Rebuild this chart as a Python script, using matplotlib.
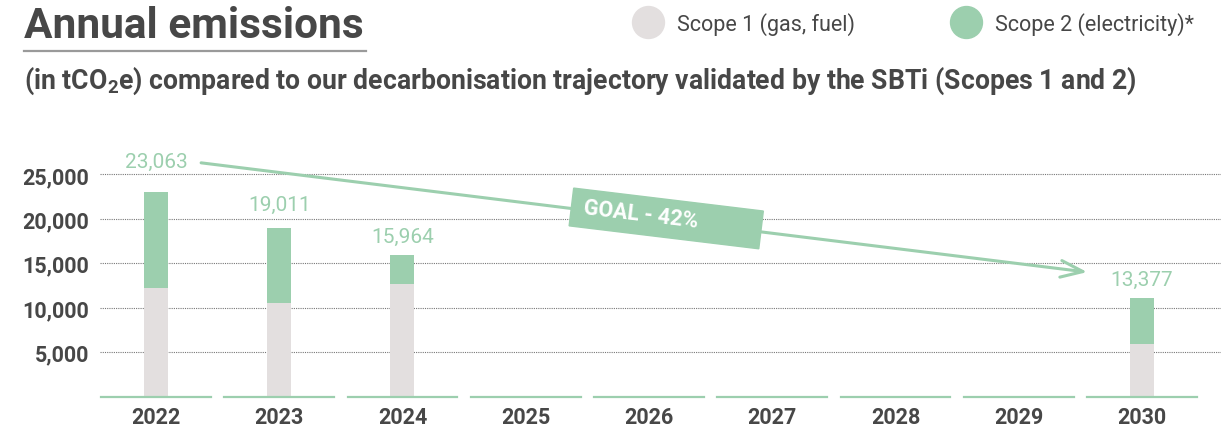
import matplotlib
matplotlib.use("Agg")
import matplotlib.pyplot as plt
import numpy as np
from matplotlib.lines import Line2D
from matplotlib.patches import Rectangle
from matplotlib.transforms import ScaledTranslation

plt.rcParams['font.family'] = ['Roboto', 'DejaVu Sans']
plt.rcParams['mathtext.fontset'] = 'custom'
plt.rcParams['mathtext.rm'] = 'Roboto'
plt.rcParams['mathtext.bf'] = 'Roboto:bold'

# data
years = ["2022", "2023", "2024", "2025", "2026", "2027", "2028", "2029", "2030"]
scope1 = [12250, 10560, 12670, 0, 0, 0, 0, 0, 5900]
scope2 = [10813, 8451, 3294, 0, 0, 0, 0, 0, 5200]
total_labels = {"2022": 23063, "2023": 19011, "2024": 15964, "2030": 13377}
goal_text = "GOAL - 42%"
yticks = [5000, 10000, 15000, 20000, 25000]

# colours
green = "#9ccfae"
grey = "#e3dfdf"
dark = "#474747"

fig = plt.figure(figsize=(12.21, 4.35), dpi=100)
ax = fig.add_axes([100 / 1221, 37.5 / 435, 1121 / 1221, 247.5 / 435])

x = np.arange(len(years))
barwidth = 0.195
ax.bar(x, scope1, barwidth, color=grey, zorder=2)
ax.bar(x, scope2, barwidth, bottom=scope1, color=green, zorder=2)

# green baseline segment under every year
for xi in x:
    ax.plot([xi - 0.445, xi + 0.445], [0, 0], color=green, lw=1.6, clip_on=False, zorder=3)

ax.set_xlim(-0.454, 8.641)
ax.set_ylim(0, 27870)
ax.set_xticks(x)
ax.set_xticklabels(years)
ax.set_yticks(yticks)
ax.set_yticklabels([f"{v:,}" for v in yticks])
ax.tick_params(axis="both", length=0, labelsize=15.5, labelcolor=dark)
ax.tick_params(axis="y", pad=8)
ax.tick_params(axis="x", pad=7)
for lab in ax.get_xticklabels() + ax.get_yticklabels():
    lab.set_fontweight("bold")
for s in ax.spines.values():
    s.set_visible(False)
ax.yaxis.grid(True, color="#777777", lw=0.8, linestyle=(0, (1, 1)))
ax.set_axisbelow(True)

# total labels above the bars (offset in points)
label_offsets = {"2022": 22, "2023": 16.5, "2024": 13, "2030": 13.5}
label_artists = {}
for year, value in total_labels.items():
    i = years.index(year)
    top = scope1[i] + scope2[i]
    label_artists[year] = ax.annotate(f"{value:,}", (x[i], top), xytext=(0, label_offsets[year]),
                                      textcoords="offset points", ha="center", va="center",
                                      color=green, fontsize=15, annotation_clip=False)

# trajectory arrow from the 2022 label to the 2030 label
ax.annotate("", xy=(0, 0.72), xycoords=label_artists["2030"], xytext=(1, 0.5),
            textcoords=label_artists["2022"],
            arrowprops=dict(arrowstyle="->,head_length=1.6,head_width=0.6", color=green,
                            lw=2.2, shrinkA=10, shrinkB=17, mutation_scale=10))

# rotated goal box on the arrow
box_trans = fig.dpi_scale_trans + ScaledTranslation(4.14, 20050, ax.transData)
ax.add_patch(Rectangle((-0.955, -0.19), 1.91, 0.38, angle=-6.9, rotation_point="center",
                       transform=box_trans, color=green, zorder=5, clip_on=False))
ax.text(-0.25, 0.045, goal_text, transform=box_trans, rotation=-6.9, rotation_mode="anchor",
        ha="center", va="center", color="white", fontsize=15.5, fontweight="bold", zorder=6)

# title, underline and subtitle
fig.text(24 / 1221, 1 - 38.5 / 435, "Annual emissions", fontsize=30.5, fontweight="bold",
         color=dark, va="baseline")
fig.add_artist(Line2D([24 / 1221, 366 / 1221], [1 - 51.7 / 435] * 2, color="#9a9a9a", lw=1.6))
fig.text(24 / 1221, 1 - 89 / 435,
         r"(in tCO$_{\mathbf{2}}$e) compared to our decarbonisation trajectory validated by the SBTi (Scopes 1 and 2)",
         fontsize=19.2, fontweight="bold", color=dark, va="baseline")

# legend with round markers
for cx, tx, col, name in [(647.7, 676.7, grey, "Scope 1 (gas, fuel)"),
                          (965.7, 995, green, "Scope 2 (electricity)*")]:
    fig.add_artist(Line2D([cx / 1221], [1 - 22.7 / 435], marker="o", ms=23, color=col, ls=""))
    fig.text(tx / 1221, 1 - 31 / 435, name, fontsize=15.5, color=dark, va="baseline")

plt.savefig("out.png", dpi=100)
